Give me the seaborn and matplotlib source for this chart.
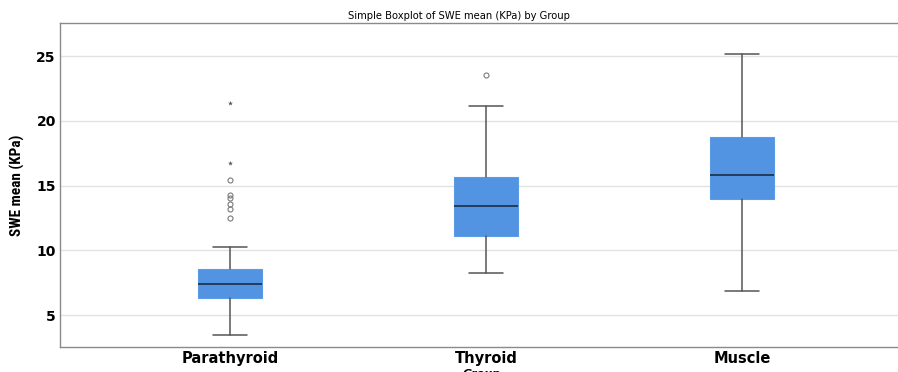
import matplotlib
matplotlib.use("Agg")
import matplotlib.pyplot as plt
from matplotlib import font_manager
import seaborn as sns

groups = ['Parathyroid', 'Thyroid', 'Muscle']
whisker_low = [3.48, 8.28, 6.86]
q1 = [6.32, 11.08, 13.97]
medians = [7.40, 13.38, 15.82]
q3 = [8.59, 15.66, 18.75]
whisker_high = [10.25, 21.17, 25.15]
outliers_mild = [[15.42, 14.25, 14.0, 13.57, 13.15, 12.47], [23.51], []]
outliers_extreme = [[21.35, 16.76], [], []]
y_ticks = [5, 10, 15, 20, 25]

sns.set_theme(style="white")
plt.rcParams['font.family'] = ['DejaVu Sans']
plt.rcParams['text.color'] = 'black'
plt.rcParams['xtick.color'] = 'black'
plt.rcParams['ytick.color'] = 'black'
plt.rcParams['axes.labelcolor'] = 'black'

# narrow font for the y label if one is there
installed = {f.name for f in font_manager.fontManager.ttflist}
narrow = None
for name in ['Liberation Sans Narrow', 'DejaVu Sans Condensed', 'Roboto Condensed']:
    if name in installed:
        narrow = name
        break

fig = plt.figure(figsize=(8.98, 3.72), dpi=100)
ax = fig.add_axes([0.0668, 0.0672, 0.9400, 0.8710])

stats = []
for i, g in enumerate(groups):
    stats.append(dict(label=g, whislo=whisker_low[i], q1=q1[i], med=medians[i],
                      q3=q3[i], whishi=whisker_high[i], fliers=outliers_mild[i]))

ax.bxp(stats, positions=range(len(groups)), widths=0.25, capwidths=0.135,
       patch_artist=True, manage_ticks=False,
       boxprops=dict(facecolor='#5294e2', edgecolor='#5c9be6', linewidth=0.8),
       medianprops=dict(color='#1d2c44', linewidth=1.2),
       whiskerprops=dict(color='#555555', linewidth=1.1),
       capprops=dict(color='#555555', linewidth=1.1),
       flierprops=dict(marker='o', markersize=3.6, markerfacecolor='none',
                       markeredgecolor='#7a7a7a', markeredgewidth=0.8))

ext_x = [i for i, vals in enumerate(outliers_extreme) for _ in vals]
ext_y = [v for vals in outliers_extreme for v in vals]
sns.scatterplot(x=ext_x, y=ext_y, marker='*', s=14, color='#555555',
                linewidth=0, ax=ax, zorder=5)

# axes run a little past the right edge of the picture, as in the reference
ax.set_xlim(-0.664, 2.61 + (0.94 - 0.9332) * 898 / 256)
ax.set_ylim(2.53, 27.55)
ax.set_yticks(y_ticks)
ax.set_yticklabels([str(t) for t in y_ticks], fontsize=10, fontweight='bold')
ax.set_xticks(range(len(groups)))
ax.set_xticklabels(groups, fontsize=10.5, fontweight='bold')
ax.tick_params(axis='both', length=0, pad=3)
ax.yaxis.grid(True, color='#e2e2e2', linewidth=1)
ax.set_axisbelow(True)

for side in ['left', 'bottom', 'top']:
    ax.spines[side].set_color('#8a8a8a')
    ax.spines[side].set_linewidth(1)
ax.spines['right'].set_visible(False)

if narrow:
    ax.set_ylabel('SWE mean (KPa)', fontsize=11, fontweight='bold',
                  family=[narrow, 'DejaVu Sans'], labelpad=8)
else:
    ax.set_ylabel('SWE mean (KPa)', fontsize=8.6, fontweight='bold',
                  family=['Liberation Sans', 'DejaVu Sans'], labelpad=10)
ax.set_xlabel('Group', fontsize=8, fontweight='bold', fontstyle='italic', labelpad=2)
ax.set_title('Simple Boxplot of SWE mean (KPa) by Group', fontsize=7.2, pad=3,
             x=(459 - 60) / (0.94 * 898))

fig.savefig('out.png', dpi=100)
